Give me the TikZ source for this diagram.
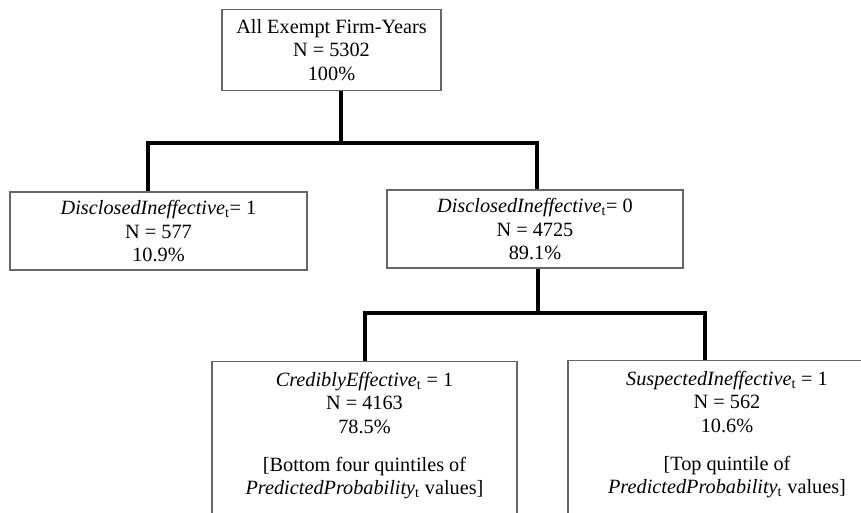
\documentclass[tikz,border=0pt]{standalone}
\usepackage{fontspec}
\setmainfont{Liberation Serif}
\usepackage{tikz}
\usetikzlibrary{positioning}
\tikzset{every node/.style={font=\fontsize{15.2}{17.6}\selectfont},
  box/.style={draw=black!60,line width=0.8pt,rectangle,inner sep=0pt,align=center},
  boxtext/.style={align=center,inner sep=0pt},
  link/.style={line width=2.3pt,black}}

\begin{document}
\begin{tikzpicture}[x=0.75pt,y=-0.75pt]
    \useasboundingbox (0,0) rectangle (861,512);
    \clip (0,0) rectangle (861,512);
    % first level
    \node[box,minimum width=164.25pt,minimum height=60.75pt] (all) at (331.5,50)
      {All Exempt Firm-Years\\ N = 5302\\ 100\%};
    % second level
    \node[box,minimum width=222.75pt,minimum height=58.5pt] (dione) at (158.5,231)
      {\textit{DisclosedIneffective}\textsubscript{t}= 1\\ N = 577\\ 10.9\%};
    \node[box,minimum width=222pt,minimum height=58.5pt] (dizero) at (535,229)
      {\textit{DisclosedIneffective}\textsubscript{t}= 0\\ N = 4725\\ 89.1\%};
    % third level (boxes run past the lower edge)
    \node[box,anchor=north,minimum width=228.75pt,minimum height=150pt] (ce) at (364.5,361) {};
    \node[boxtext,below=8pt of ce.north] (cetext)
      {\textit{CrediblyEffective}\textsubscript{t} = 1\\ N = 4163\\ 78.5\%\\[11pt]
       [Bottom four quintiles of\\ \textit{PredictedProbability}\textsubscript{t} values]};
    \node[box,anchor=north,minimum width=238.5pt,minimum height=150pt] (si) at (727,360) {};
    \node[boxtext,below=8pt of si.north] (sitext)
      {\textit{SuspectedIneffective}\textsubscript{t} = 1\\ N = 562\\ 10.6\%\\[11pt]
       [Top quintile of\\ \textit{PredictedProbability}\textsubscript{t} values]};
    % connectors
    \coordinate (s1) at (341,143);
    \coordinate (l1) at (148,143);
    \coordinate (r1) at (537,143);
    \coordinate (s2) at (538,313);
    \coordinate (l2) at (365,313);
    \coordinate (r2) at (705,313);
    \draw[link] (s1 |- all.south) -- (s1);
    \draw[link] (l1 |- dione.north) -- (l1) -- (r1) -- (r1 |- dizero.north);
    \draw[link] (s2 |- dizero.south) -- (s2);
    \draw[link] (l2 |- ce.north) -- (l2) -- (r2) -- (r2 |- si.north);
  \end{tikzpicture}
\end{document}
